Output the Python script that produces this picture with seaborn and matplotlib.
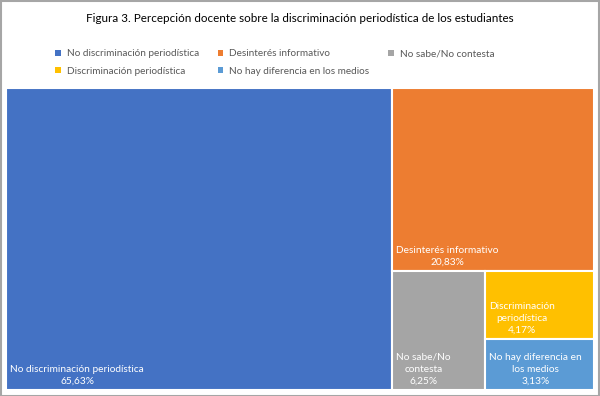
import matplotlib
matplotlib.use("Agg")
import matplotlib.pyplot as plt
import seaborn as sns
from matplotlib.patches import Rectangle, Patch

# data
categories = ["No discriminación periodística", "Desinterés informativo",
              "No sabe/No contesta", "Discriminación periodística",
              "No hay diferencia en los medios"]
values = [65.63, 20.83, 6.25, 4.17, 3.13]
box_labels = ["No discriminación periodística", "Desinterés informativo",
              "No sabe/No\ncontesta", "Discriminación\nperiodística",
              "No hay diferencia en\nlos medios"]
colors = ["#4472C4", "#ED7D31", "#A5A5A5", "#FFC000", "#5B9BD5"]

W, H = 588.0, 302.0


def worst(row, side):
    s = sum(row)
    return max(max(side * side * r / (s * s), s * s / (side * side * r)) for r in row)


def squarify(vals, x, y, w, h):
    # classic squarified treemap, vals already scaled to area
    rects = []
    vals = list(vals)
    while vals:
        side = min(w, h)
        row = [vals.pop(0)]
        while vals and worst(row + [vals[0]], side) <= worst(row, side):
            row.append(vals.pop(0))
        s = sum(row)
        if w >= h:
            cw = s / h
            yy = y
            for r in row:
                rects.append((x, yy, cw, r / cw))
                yy += r / cw
            x += cw
            w -= cw
        else:
            rh = s / w
            xx = x
            for r in row:
                rects.append((xx, y, r / rh, rh))
                xx += r / rh
            y += rh
            h -= rh
    return rects


total = sum(values)
areas = [v / total * W * H for v in values]
rects = squarify(areas, 0, 0, W, H)

sns.set_theme(style="white")
plt.rcParams["font.family"] = ["Lato", "DejaVu Sans"]

fig = plt.figure(figsize=(6, 3.96), dpi=100)
fig.patches.append(Rectangle((0.001, 0.001), 0.997, 0.996, transform=fig.transFigure,
                             fill=False, edgecolor="#a6a6a6", linewidth=1.5))

ax = fig.add_axes([0.01, 0.015, 0.98, 0.763])
ax.set_xlim(0, W)
ax.set_ylim(H, 0)
ax.axis("off")

for (rx, ry, rw, rh), lab, v, c in zip(rects, box_labels, values, colors):
    ax.add_patch(Rectangle((rx, ry), rw, rh, facecolor=c, edgecolor="white", linewidth=1.5))
    txt = lab + "\n" + f"{v:.2f}%".replace(".", ",")
    ax.annotate(txt, xy=(rx, ry + rh), xytext=(3, 3), textcoords="offset points",
                ha="left", va="bottom", multialignment="center",
                color="white", fontsize=7.3, linespacing=1.45)

fig.text(0.5, 0.953, "Figura 3. Percepción docente sobre la discriminación periodística de los estudiantes",
         ha="center", va="center", fontsize=8.4, color="black",
         family=["Liberation Sans Narrow", "Lato", "DejaVu Sans"])

handles = [Patch(facecolor=c, edgecolor="none") for c in colors]
order = [0, 3, 1, 4, 2]
fig.legend([handles[i] for i in order], [categories[i] for i in order],
           ncol=3, loc="center", bbox_to_anchor=(0.458, 0.842), frameon=False,
           fontsize=7.2, handlelength=0.55, handleheight=0.55, handletextpad=0.6,
           columnspacing=1.9, labelspacing=0.85, labelcolor="#595959")

fig.savefig("out.png", dpi=100)
